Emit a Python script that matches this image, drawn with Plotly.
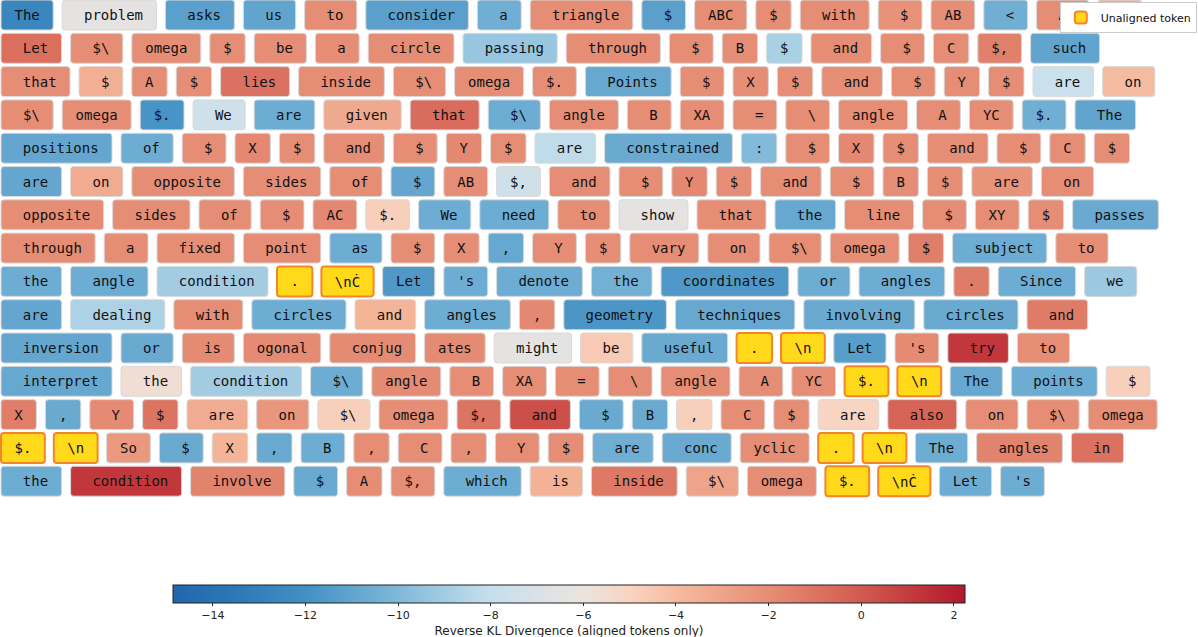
import plotly.graph_objects as go

# tokens in reading order; a leading space belongs to the token
tokens = [
    "The", " problem", " asks", " us", " to", " consider", " a", " triangle", " $", "ABC", "$", " with", " $", "AB", " <", " AC", "$.",
    " Let", " $\\", "omega", "$", " be", " a", " circle", " passing", " through", " $", "B", "$", " and", " $", "C", "$,", " such",
    " that", " $", "A", "$", " lies", " inside", " $\\", "omega", "$.", " Points", " $", "X", "$", " and", " $", "Y", "$", " are", " on",
    " $\\", "omega", "$.", " We", " are", " given", " that", " $\\", "angle", " B", "XA", " =", " \\", "angle", " A", "YC", "$.", " The",
    " positions", " of", " $", "X", "$", " and", " $", "Y", "$", " are", " constrained", ":", " $", "X", "$", " and", " $", "C", "$",
    " are", " on", " opposite", " sides", " of", " $", "AB", "$,", " and", " $", "Y", "$", " and", " $", "B", "$", " are", " on",
    " opposite", " sides", " of", " $", "AC", "$.", " We", " need", " to", " show", " that", " the", " line", " $", "XY", "$", " passes",
    " through", " a", " fixed", " point", " as", " $", "X", ",", " Y", "$", " vary", " on", " $\\", "omega", "$", " subject", " to",
    " the", " angle", " condition", ".", "\\nĊ", "Let", "'s", " denote", " the", " coordinates", " or", " angles", ".", " Since", " we",
    " are", " dealing", " with", " circles", " and", " angles", ",", " geometry", " techniques", " involving", " circles", " and",
    " inversion", " or", " is", "ogonal", " conjug", "ates", " might", " be", " useful", ".", "\\n", "Let", "'s", " try", " to",
    " interpret", " the", " condition", " $\\", "angle", " B", "XA", " =", " \\", "angle", " A", "YC", "$.", "\\n", "The", " points", " $",
    "X", ",", " Y", "$", " are", " on", " $\\", "omega", "$,", " and", " $", "B", ",", " C", "$", " are", " also", " on", " $\\", "omega",
    "$.", "\\n", "So", " $", "X", ",", " B", ",", " C", ",", " Y", "$", " are", " conc", "yclic", ".", "\\n", "The", " angles", " in",
    " the", " condition", " involve", " $", "A", "$,", " which", " is", " inside", " $\\", "omega", "$.", "\\nĊ", "Let", "'s",
]

# reverse KL per token; None = unaligned token
kl_values = [
    -12.6, -6.4, -11.2, -11.0, -2.0, -11.2, -10.5, -2.0, -11.2, -2.0, -2.0, -2.0, -2.2, -2.0, -10.5, -2.0, -3.4,
    -0.8, -2.0, -2.0, -2.0, -2.0, -2.0, -2.0, -9.3, -2.0, -2.0, -2.0, -8.8, -2.0, -2.0, -2.0, -1.5, -11.0,
    -2.0, -3.5, -2.0, -2.0, -0.9, -2.0, -2.0, -2.0, -2.0, -10.8, -2.0, -2.0, -2.0, -2.0, -2.0, -2.0, -2.0, -7.8, -4.0,
    -2.0, -2.0, -11.8, -7.6, -10.6, -3.2, -0.7, -10.6, -2.0, -2.0, -2.0, -2.0, -2.0, -2.0, -2.0, -2.0, -10.5, -11.0,
    -10.9, -10.6, -2.0, -1.8, -2.0, -2.0, -2.0, -1.8, -2.0, -8.2, -10.7, -9.9, -2.0, -1.8, -2.0, -2.0, -2.0, -2.0, -2.0,
    -10.9, -3.3, -2.0, -2.0, -2.0, -10.9, -2.0, -7.5, -2.0, -2.0, -1.8, -2.0, -2.0, -2.0, -2.0, -2.0, -2.3, -2.0,
    -2.0, -2.0, -2.0, -2.0, -1.8, -4.8, -10.6, -10.6, -2.0, -6.4, -2.0, -10.8, -2.0, -2.0, -2.0, -2.0, -10.7,
    -2.0, -2.0, -2.0, -2.0, -10.6, -2.0, -2.0, -10.8, -2.0, -2.0, -2.0, -2.0, -2.0, -2.0, -1.4, -10.6, -2.0,
    -10.6, -10.6, -9.0, None, None, -11.6, -10.6, -10.6, -10.4, -11.6, -10.6, -10.6, -1.3, -10.6, -9.2,
    -10.9, -8.7, -2.0, -10.6, -3.7, -10.6, -1.8, -11.7, -10.8, -10.7, -10.7, -1.3,
    -10.9, -10.7, -1.9, -1.9, -1.9, -1.9, -6.4, -4.6, -10.7, None, None, -11.3, -1.9, 1.2, -2.0,
    -10.8, -5.6, -9.0, -10.6, -1.9, -2.0, -2.0, -2.0, -2.0, -2.0, -2.0, -2.0, None, None, -10.8, -10.6, -4.8,
    -1.4, -10.7, -1.9, -1.0, -3.3, -2.4, -4.8, -2.0, -1.0, 0.4, -10.7, -10.7, -4.8, -2.0, -2.0, -5.0, -0.4, -2.0, -2.0, -2.0,
    None, None, -2.5, -10.7, -3.7, -10.7, -10.6, -2.0, -2.0, -2.0, -2.0, -2.0, -10.5, -10.7, -2.0, None, None, -10.6, -1.6, -0.9,
    -10.6, 1.2, -1.6, -10.7, -2.0, -2.0, -10.6, -3.6, -1.2, -3.0, -2.0, None, None, -10.6, -10.6,
]

# number of tokens on each wrapped line
row_sizes = [17, 17, 19, 18, 19, 18, 17, 17, 15, 12, 15, 17, 20, 20, 15]

kl_min, kl_max = -14.86, 2.24
kl_ticks = [-14, -12, -10, -8, -6, -4, -2, 0, 2]

colorscale = [
    [0.00, "#2166ac"], [0.08, "#2d78b7"], [0.167, "#4390c4"], [0.28, "#7db7d8"],
    [0.40, "#c6dfec"], [0.49, "#e3e3e3"], [0.52, "#ebe3de"], [0.58, "#f9d3c0"],
    [0.64, "#f5b99d"], [0.76, "#e58a72"], [0.87, "#d25a4f"], [1.00, "#b2182b"],
]

# simple word-box layout: box width follows the character count
CHAR_W, PAD, GAP, X0 = 8.4, 27, 9, 1
starts, widths, rows = [], [], []
i = 0
for r, n in enumerate(row_sizes):
    x = X0
    for tok in tokens[i:i + n]:
        w = CHAR_W * len(tok) + PAD
        starts.append(x)
        widths.append(w)
        rows.append(r)
        x += w + GAP
    i += n

labels = [t.replace(" ", "\u00a0") for t in tokens]
al = [k for k, v in enumerate(kl_values) if v is not None]
un = [k for k, v in enumerate(kl_values) if v is None]

txtfont = dict(family="DejaVu Sans Mono", size=14, color="#111111")

fig = go.Figure()
fig.add_trace(go.Bar(
    y=[rows[k] for k in al], x=[widths[k] for k in al], base=[starts[k] for k in al],
    orientation="h", width=0.9, showlegend=False, hoverinfo="skip",
    text=[labels[k] for k in al], textposition="inside", insidetextanchor="middle",
    textangle=0, textfont=txtfont,
    marker=dict(
        color=[kl_values[k] for k in al], colorscale=colorscale, cmin=kl_min, cmax=kl_max,
        line=dict(color="#d9d9d9", width=1), cornerradius=3,
        colorbar=dict(
            orientation="h", x=569 / 1198, xanchor="center", y=1 - 585 / 637, yanchor="top",
            lenmode="pixels", len=792, thickness=18, xpad=0, ypad=0,
            outlinewidth=1, outlinecolor="#222222",
            tickvals=kl_ticks, ticks="outside", ticklen=3, tickcolor="#222222",
            tickfont=dict(family="DejaVu Sans", size=11, color="#222222"),
            title=dict(text="Reverse KL Divergence (aligned tokens only)", side="bottom",
                       font=dict(family="DejaVu Sans", size=12, color="#222222")),
        ),
    ),
))
fig.add_trace(go.Bar(
    y=[rows[k] for k in un], x=[widths[k] for k in un], base=[starts[k] for k in un],
    orientation="h", width=0.9, name="Unaligned token", hoverinfo="skip",
    text=[labels[k] for k in un], textposition="inside", insidetextanchor="middle",
    textangle=0, textfont=txtfont,
    marker=dict(color="#ffd91a", line=dict(color="#f5842a", width=2), cornerradius=3),
))

row_px = 33.3
fig.update_layout(
    width=1198, height=637, margin=dict(l=0, r=0, t=0, b=0, pad=0, autoexpand=False),
    barmode="overlay", plot_bgcolor="white", paper_bgcolor="white",
    xaxis=dict(range=[0, 1198], visible=False, fixedrange=True),
    yaxis=dict(range=[(637 - 15) / row_px, -15 / row_px], visible=False, fixedrange=True),
    legend=dict(x=0.999, xanchor="right", y=0.997, yanchor="top", bgcolor="white",
                bordercolor="#cccccc", borderwidth=1, itemwidth=30,
                font=dict(family="DejaVu Sans", size=11, color="#111111")),
    uniformtext=dict(minsize=14, mode="show"),
)
# the page's default body margin would shift the fixed-size figure
fig.write_html("out.html", config={"displayModeBar": False},
               post_script="document.body.style.margin='0';")
